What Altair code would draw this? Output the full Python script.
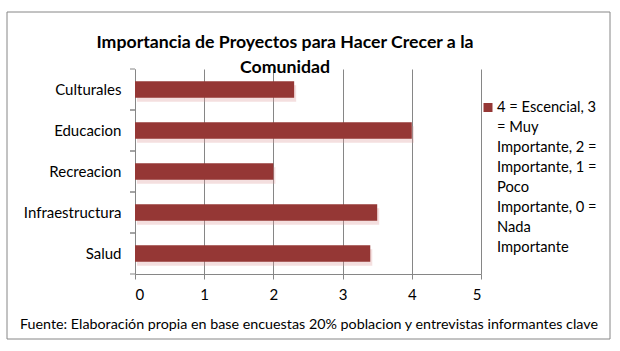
import altair as alt
import pandas as pd

categories = ["Culturales", "Educacion", "Recreacion", "Infraestructura", "Salud"]
values = [2.3, 4.0, 2.0, 3.5, 3.4]
x_ticks = [0, 1, 2, 3, 4, 5]
title_lines = ["Importancia de Proyectos para Hacer Crecer a la", "Comunidad"]
legend_lines = ["4 = Escencial, 3", "= Muy", "Importante, 2 =", "Importante, 1 =",
                "Poco", "Importante, 0 =", "Nada", "Importante"]
source_note = "Fuente: Elaboración propia en base encuestas 20% poblacion y entrevistas informantes clave"

FONT = "Lato"
GRID = "#868686"
BAR = "#953735"

df = pd.DataFrame({"cat": categories, "val": values})

W, H = 346, 205
L, T = 135, 69
STEP = H / len(categories)
PAD_IN = 0.595
HALF_GAP = STEP * PAD_IN / 2

yscale = alt.Scale(domain=categories, paddingInner=PAD_IN, paddingOuter=PAD_IN / 2)
xscale = alt.Scale(domain=[0, 5], nice=False)

yenc = alt.Y("cat:N", scale=yscale, sort=categories,
             axis=alt.Axis(title=None, ticks=False, labelPadding=14, labelFontSize=15,
                           labelFont=FONT, labelColor="#000", domainColor=GRID, labelLimit=200))
xenc = alt.X("val:Q", scale=xscale,
             axis=alt.Axis(title=None, values=x_ticks, grid=True, gridColor=GRID, gridOpacity=1,
                           domainColor=GRID, tickColor=GRID, tickSize=5, labelPadding=8,
                           labelFontSize=15, labelFont=FONT, labelColor="#000", format="d"))

border = alt.Chart(pd.DataFrame({"a": [0]})).mark_rect(
    fill=None, stroke=GRID, strokeWidth=1).encode(
    x=alt.value(7 - L), x2=alt.value(610 - L), y=alt.value(12 - T), y2=alt.value(339 - T))

shadow = alt.Chart(df).mark_bar(color="#d99694", opacity=0.3, xOffset=2, yOffset=4).encode(
    x=alt.X("val:Q", scale=xscale), y=alt.Y("cat:N", scale=yscale, sort=categories))

bars = alt.Chart(df).mark_bar(color=BAR).encode(x=xenc, y=yenc)

ticks_top = alt.Chart(df).mark_rule(color=GRID, yOffset=-HALF_GAP).encode(
    y=alt.Y("cat:N", scale=yscale, sort=categories, bandPosition=0),
    x=alt.value(-5), x2=alt.value(0))
ticks_bot = alt.Chart(df).mark_rule(color=GRID, yOffset=HALF_GAP).encode(
    y=alt.Y("cat:N", scale=yscale, sort=categories, bandPosition=1),
    x=alt.value(-5), x2=alt.value(0))

title = alt.Chart(pd.DataFrame({"t": ["\n".join(title_lines)]})).mark_text(
    font=FONT, fontSize=17.7, fontWeight="bold", lineBreak="\n", lineHeight=25,
    align="center", baseline="alphabetic", color="#000").encode(
    text="t:N", x=alt.value(285 - L), y=alt.value(48 - T))

legend_sym = alt.Chart(pd.DataFrame({"s": [legend_lines[0]]})).mark_square(
    color=BAR, size=81, opacity=1).encode(x=alt.value(488 - L), y=alt.value(107.5 - T))

legend_txt = alt.Chart(pd.DataFrame({"t": ["\n".join(legend_lines)]})).mark_text(
    font=FONT, fontSize=14.7, lineBreak="\n", lineHeight=20, align="left",
    baseline="middle", color="#000").encode(
    text="t:N", x=alt.value(497 - L), y=alt.value(107.5 - T))

note = alt.Chart(pd.DataFrame({"t": [source_note]})).mark_text(
    font=FONT, fontSize=14.3, align="left", baseline="middle", color="#000").encode(
    text="t:N", x=alt.value(20 - L), y=alt.value(325 - T))

chart = alt.layer(border, shadow, bars, ticks_top, ticks_bot, title, legend_sym, legend_txt, note).properties(
    width=W, height=H,
    autosize=alt.AutoSizeParams(type="none"),
    padding={"left": L, "top": T, "right": 620 - L - W, "bottom": 351 - T - H},
    background="white",
).configure_view(stroke=None)

chart.save("out.html", embed_options={"renderer": "svg", "actions": False})
